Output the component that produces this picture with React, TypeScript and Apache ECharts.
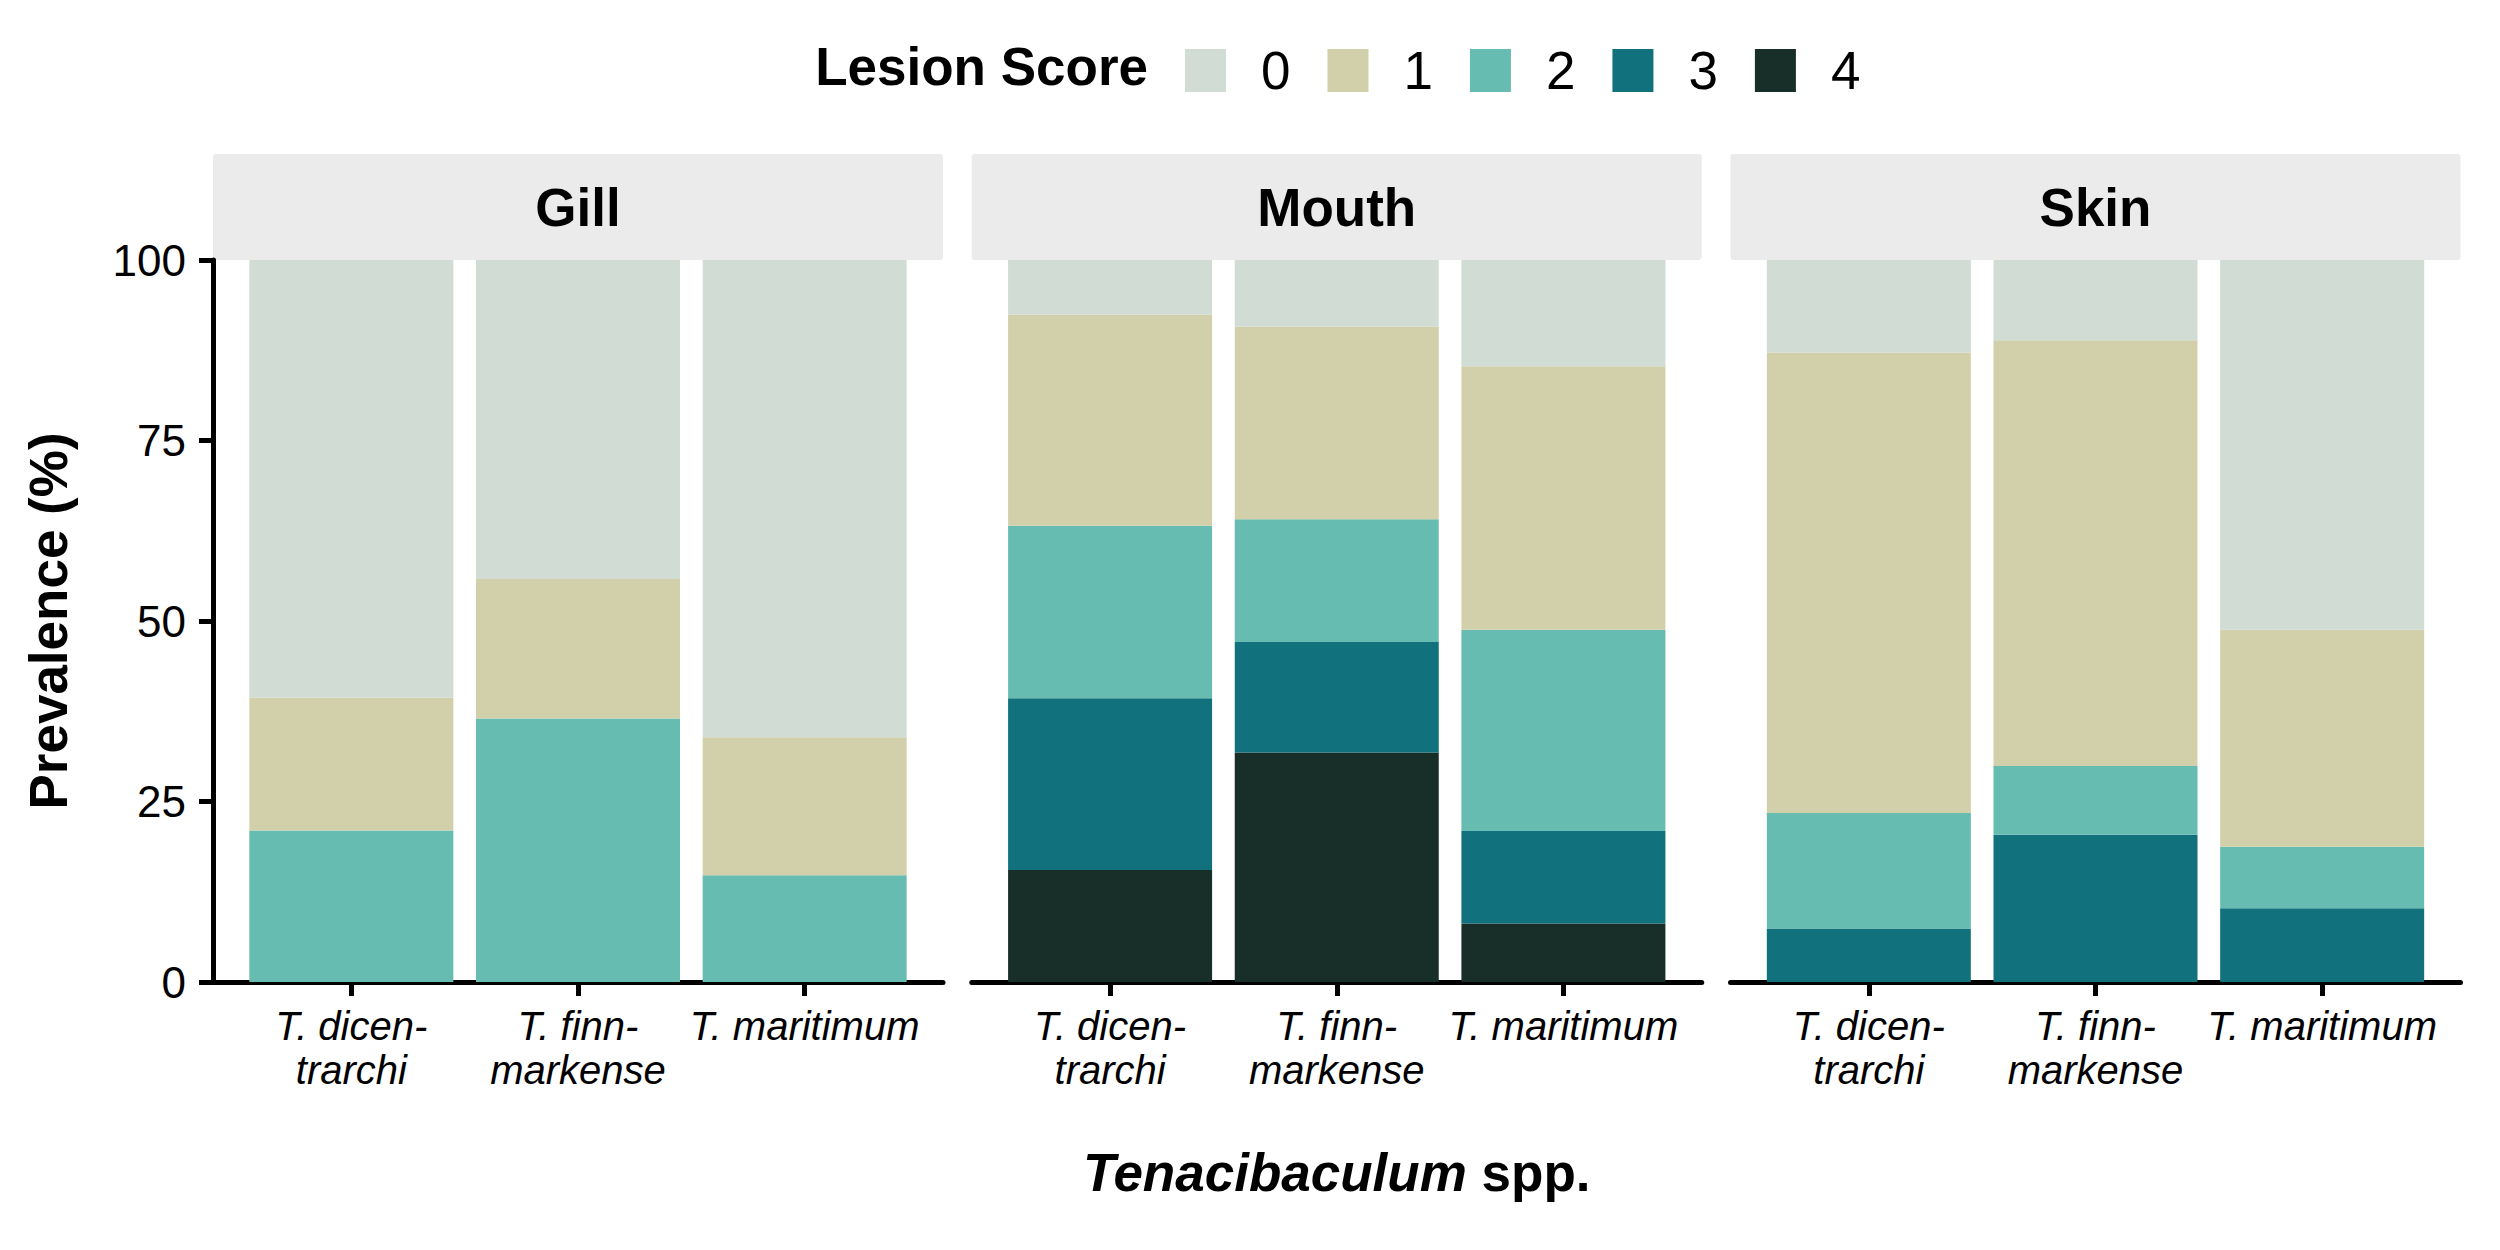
import { useEffect, useRef } from 'react'
import * as echarts from 'echarts'

const FONT = 'Liberation Sans, Arial, sans-serif'

const panels = ['Gill', 'Mouth', 'Skin']
const species = ['T. dicen-\ntrarchi', 'T. finn-\nmarkense', 'T. maritimum']
const scoreNames = ['0', '1', '2', '3', '4']
const scoreColors = ['#d0dcd4', '#d2d0aa', '#67bcb1', '#11717d', '#182e29']
const yTicks = [0, 25, 50, 75, 100]

// values per score: Gill x3, Mouth x3, Skin x3 (species order as above)
const score0 = [60.6, 44.2, 66.1, 7.6, 9.2, 14.7, 12.8, 11.1, 51.2]
const score1 = [18.4, 19.3, 19.1, 29.2, 26.7, 36.5, 63.8, 59.0, 30.05]
const score2 = [21.0, 36.5, 14.8, 23.9, 17.0, 27.9, 16.0, 9.5, 8.55]
const score3 = [0, 0, 0, 23.8, 15.3, 12.8, 7.4, 20.4, 10.2]
const score4 = [0, 0, 0, 15.5, 31.8, 8.1, 0, 0, 0]
const scores = [score0, score1, score2, score3, score4]

const PANEL_LEFT = 213
const PANEL_STEP = 758.75
const PANEL_W = 730
const INSET = 25
const TOP = 260
const PLOT_H = 722
const STRIP_TOP = 154

export default function App() {
  const ref = useRef<HTMLDivElement | null>(null)

  useEffect(() => {
    if (!ref.current) return
    const chart = echarts.init(ref.current, null, { renderer: 'svg' })

    const grids: any[] = []
    const xAxes: any[] = []
    const yAxes: any[] = []
    // outer grids: full panel, axis lines (+ y axis on first panel)
    panels.forEach((_, p) => {
      grids.push({ left: PANEL_LEFT + p * PANEL_STEP, top: TOP, width: PANEL_W, height: PLOT_H })
      xAxes.push({
        gridIndex: p,
        type: 'value',
        min: 0,
        max: 1,
        axisLine: { show: true, lineStyle: { color: '#000', width: 5 } },
        axisTick: { show: false },
        axisLabel: { show: false },
        splitLine: { show: false },
      })
      yAxes.push({
        gridIndex: p,
        type: 'value',
        show: p === 0,
        min: 0,
        max: 100,
        interval: 25,
        axisLine: { show: true, lineStyle: { color: '#000', width: 5 } },
        axisTick: { show: true, length: 14, lineStyle: { color: '#000', width: 5 } },
        axisLabel: {
          color: '#000',
          fontSize: 44,
          fontFamily: FONT,
          margin: 27,
          formatter: (v: number) => (yTicks.includes(v) ? String(v) : ''),
        },
        splitLine: { show: false },
      })
    })
    // inner grids: bars, category ticks and labels
    panels.forEach((_, p) => {
      grids.push({
        left: PANEL_LEFT + p * PANEL_STEP + INSET,
        top: TOP,
        width: PANEL_W - 2 * INSET,
        height: PLOT_H,
      })
      xAxes.push({
        gridIndex: 3 + p,
        type: 'category',
        data: species,
        axisLine: { show: false },
        axisTick: {
          show: true,
          alignWithLabel: true,
          length: 14,
          lineStyle: { color: '#000', width: 5 },
        },
        axisLabel: {
          interval: 0,
          color: '#000',
          fontSize: 40,
          fontStyle: 'italic',
          fontFamily: FONT,
          lineHeight: 44,
          margin: 22,
        },
      })
      yAxes.push({ gridIndex: 3 + p, type: 'value', min: 0, max: 100, show: false })
    })

    const series: any[] = []
    panels.forEach((_, p) => {
      for (let s = scores.length - 1; s >= 0; s--) {
        series.push({
          type: 'bar',
          name: scoreNames[s],
          stack: 'panel' + p,
          xAxisIndex: 3 + p,
          yAxisIndex: 3 + p,
          barWidth: '90%',
          itemStyle: { color: scoreColors[s] },
          data: scores[s].slice(p * 3, p * 3 + 3),
        })
      }
    })

    const graphics: any[] = []
    panels.forEach((name, p) => {
      const left = PANEL_LEFT + p * PANEL_STEP
      graphics.push({
        type: 'rect',
        shape: { x: left, y: STRIP_TOP, width: PANEL_W, height: TOP - STRIP_TOP, r: 3 },
        style: { fill: '#ebebeb' },
      })
      graphics.push({
        type: 'text',
        x: left + PANEL_W / 2,
        y: (STRIP_TOP + TOP) / 2,
        style: {
          text: name,
          fill: '#000',
          fontSize: 53,
          fontWeight: 'bold',
          fontFamily: FONT,
          align: 'center',
          verticalAlign: 'middle',
          textAlign: 'center',
          textVerticalAlign: 'middle',
        },
      })
    })
    graphics.push({
      type: 'text',
      x: 1148,
      y: 66,
      style: {
        text: 'Lesion Score',
        fill: '#000',
        fontSize: 53,
        fontWeight: 'bold',
        fontFamily: FONT,
        align: 'right',
        verticalAlign: 'middle',
        textAlign: 'right',
        textVerticalAlign: 'middle',
      },
    })
    graphics.push({
      type: 'text',
      x: 48,
      y: TOP + PLOT_H / 2,
      rotation: Math.PI / 2,
      style: {
        text: 'Prevalence (%)',
        fill: '#000',
        fontSize: 53,
        fontWeight: 'bold',
        fontFamily: FONT,
        align: 'center',
        verticalAlign: 'middle',
        textAlign: 'center',
        textVerticalAlign: 'middle',
      },
    })
    graphics.push({
      type: 'text',
      x: PANEL_LEFT + PANEL_STEP + PANEL_W / 2,
      y: 1172,
      style: {
        text: '{i|Tenacibaculum} spp.',
        fill: '#000',
        fontSize: 53,
        fontWeight: 'bold',
        fontFamily: FONT,
        align: 'center',
        verticalAlign: 'middle',
        textAlign: 'center',
        textVerticalAlign: 'middle',
        rich: {
          i: { fontStyle: 'italic', fontWeight: 'bold', fontSize: 53, fontFamily: FONT, fill: '#000' },
        },
      },
    })

    chart.setOption({
      animation: false,
      backgroundColor: '#fff',
      grid: grids,
      xAxis: xAxes,
      yAxis: yAxes,
      series,
      legend: {
        data: scoreNames,
        left: 1185,
        top: 44,
        padding: 0,
        itemWidth: 41,
        itemHeight: 43,
        itemGap: 37,
        icon: 'rect',
        selectedMode: false,
        textStyle: {
          color: '#000',
          fontSize: 53,
          fontFamily: FONT,
          lineHeight: 43,
          padding: [0, 0, 0, 30],
        },
      },
      graphic: graphics,
    })

    return () => chart.dispose()
  }, [])

  return (
    <div
      ref={ref}
      style={{ position: 'fixed', left: 0, top: 0, width: 2500, height: 1250 }}
    />
  )
}
